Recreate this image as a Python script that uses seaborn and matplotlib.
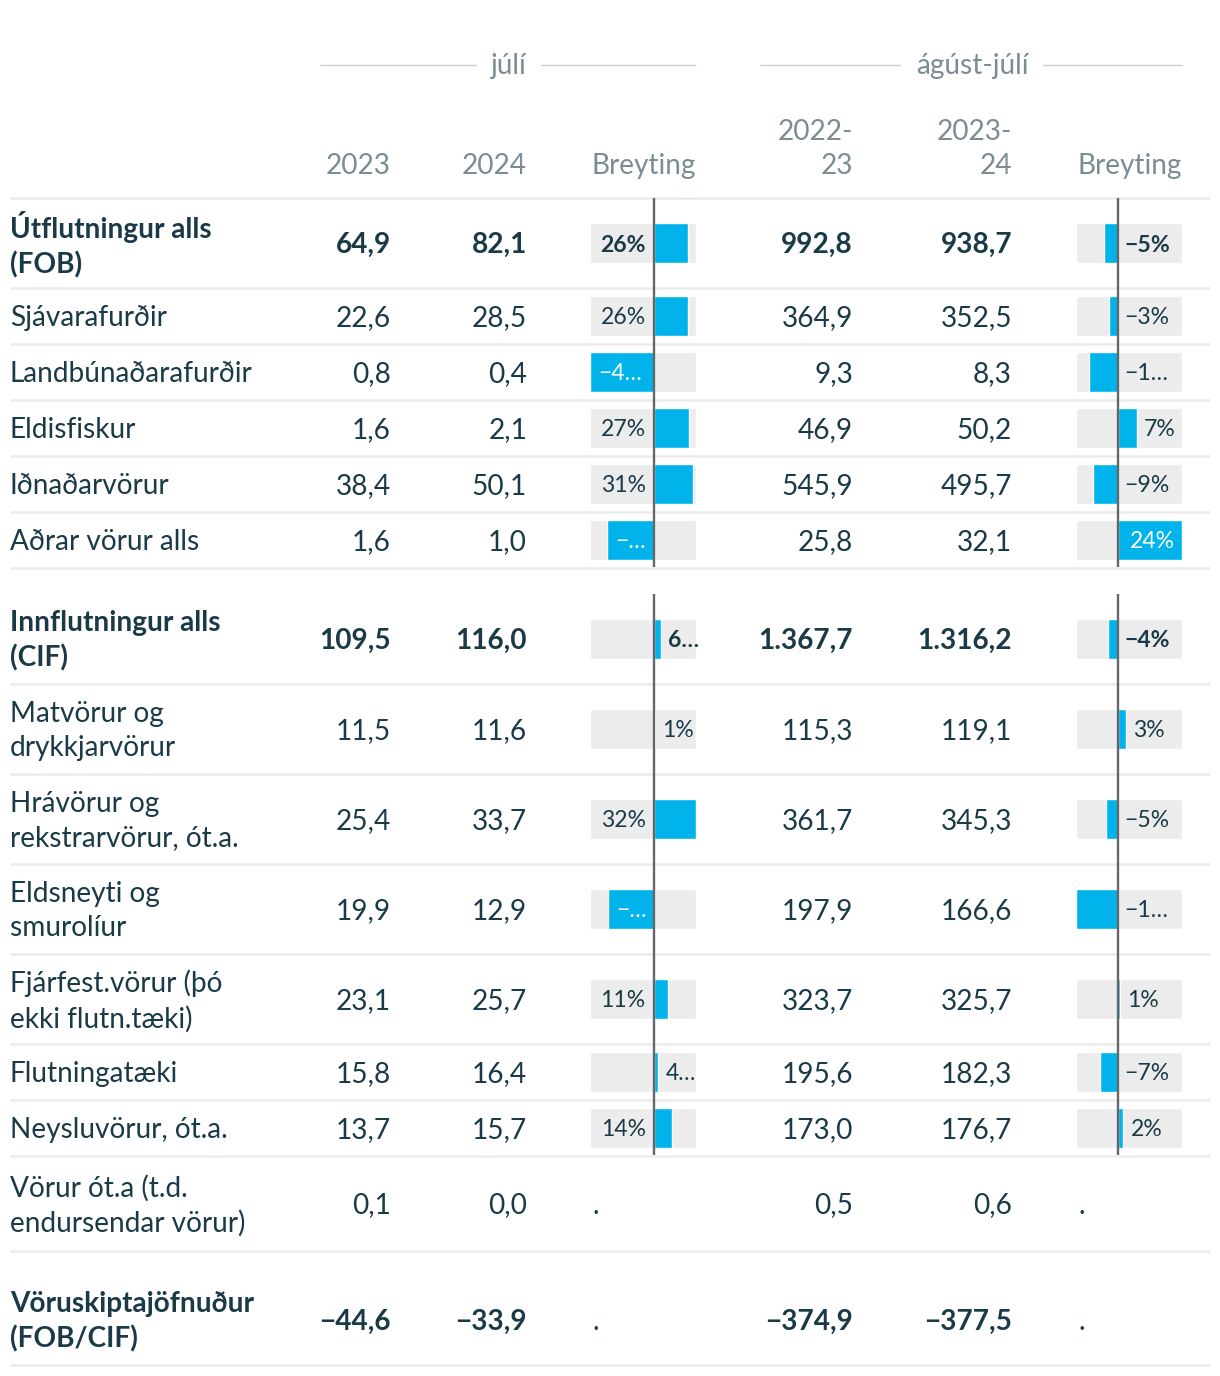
import numpy as np
import matplotlib
matplotlib.use("Agg")
import matplotlib.pyplot as plt
import matplotlib.transforms as mtransforms
import seaborn as sns

# ---------------- data ----------------
row_labels = [
    "Útflutningur alls\n(FOB)", "Sjávarafurðir", "Landbúnaðarafurðir", "Eldisfiskur",
    "Iðnaðarvörur", "Aðrar vörur alls",
    "Innflutningur alls\n(CIF)", "Matvörur og\ndrykkjarvörur", "Hrávörur og\nrekstrarvörur, ót.a.",
    "Eldsneyti og\nsmurolíur", "Fjárfest.vörur (þó\nekki flutn.tæki)", "Flutningatæki",
    "Neysluvörur, ót.a.", "Vörur ót.a (t.d.\nendursendar vörur)", "Vöruskiptajöfnuður\n(FOB/CIF)",
]
bold_rows = [True, False, False, False, False, False, True, False, False, False, False,
             False, False, False, True]
jul_2023 = [64.9, 22.6, 0.8, 1.6, 38.4, 1.6, 109.5, 11.5, 25.4, 19.9, 23.1, 15.8, 13.7, 0.1, -44.6]
jul_2024 = [82.1, 28.5, 0.4, 2.1, 50.1, 1.0, 116.0, 11.6, 33.7, 12.9, 25.7, 16.4, 15.7, 0.0, -33.9]
aj_2223 = [992.8, 364.9, 9.3, 46.9, 545.9, 25.8, 1367.7, 115.3, 361.7, 197.9, 323.7, 195.6, 173.0, 0.5, -374.9]
aj_2324 = [938.7, 352.5, 8.3, 50.2, 495.7, 32.1, 1316.2, 119.1, 345.3, 166.6, 325.7, 182.3, 176.7, 0.6, -377.5]
chg_jul = [26.4, 26.1, -49.0, 27.3, 30.6, -36.0, 5.5, 1.0, 32.6, -35.0, 11.0, 3.7, 14.3, np.nan, np.nan]
chg_aj = [-5.0, -3.2, -10.8, 7.2, -9.2, 24.4, -3.8, 3.1, -4.6, -15.8, 1.0, -6.8, 2.2, np.nan, np.nan]
chg_jul_labels = ["26%", "26%", "−4…", "27%", "31%", "−…", "6…", "1%", "32%", "−…", "11%", "4…", "14%", ".", "."]
chg_aj_labels = ["−5%", "−3%", "−1…", "7%", "−9%", "24%", "−4%", "3%", "−5%", "−1…", "1%", "−7%", "2%", ".", "."]
group_titles = ["júlí", "ágúst-júlí"]
col_headers = ["2023", "2024", "Breyting", "2022-\n23", "2023-\n24", "Breyting"]

# ---------------- layout (pixels) ----------------
W, H = 1220, 1376
row_heights = [90, 56, 56, 56, 56, 56, 90, 90, 90, 90, 90, 56, 56, 95, 90]
space_before = [0, 0, 0, 0, 0, 0, 26, 0, 0, 0, 0, 0, 0, 0, 24]
TABLE_TOP = 198
label_place_jul = ['Z', 'Z', 'I', 'Z', 'Z', 'I', 'A', 'A', 'Z', 'I', 'Z', 'A', 'Z', None, None]
label_place_aj = ['Z', 'Z', 'Z', 'A', 'Z', 'I', 'Z', 'A', 'Z', 'Z', 'A', 'Z', 'A', None, None]

TEXT = "#1a3a47"
GREY_TXT = "#7b8d93"
BLUE = "#00b4eb"
BG = "#ececec"
SEP = "#ebebeb"
ZERO = "#666666"
FS = 20.2
FS_BAR = 16.6
DY = 2

sns.set_theme(style="white")
plt.rcParams["font.family"] = ["Lato", "DejaVu Sans"]

fig = plt.figure(figsize=(W / 100, H / 100), dpi=100)
ax = fig.add_axes([0, 0, 1, 1])
ax.set_xlim(0, W)
ax.set_ylim(H, 0)
ax.axis("off")


def fmt(v):
    s = f"{abs(v):,.1f}".replace(",", "X").replace(".", ",").replace("X", ".")
    return ("−" + s) if v < 0 else s


# row geometry
tops, centers, bottoms = [], [], []
y = TABLE_TOP
for h, sp in zip(row_heights, space_before):
    y += sp
    tops.append(y)
    centers.append(y + h / 2)
    y += h
    bottoms.append(y)

# ---- header ----
for title, (x0, x1) in zip(group_titles, [(320, 696), (760, 1182)]):
    ax.hlines(65, x0, x1, color="#c9cfd1", lw=1.0)
    ax.text((x0 + x1) / 2 + 1, 66, title, ha="center", va="center", fontsize=FS, color=GREY_TXT,
            bbox=dict(facecolor="white", edgecolor="none", pad=10.5))
col_right = [391, 527, 696, 853, 1012, 1182]
for txt, xr in zip(col_headers, col_right):
    ax.text(xr, 174, txt, ha="right", va="baseline", fontsize=FS, color=GREY_TXT,
            linespacing=1.4)
ax.hlines(197.5, 10, 1210, color=SEP, lw=1.8)

# ---- rows ----
num_cols = [jul_2023, jul_2024, aj_2223, aj_2324]
num_right = [391, 527, 853, 1012]
for i, lab in enumerate(row_labels):
    weight = "bold" if bold_rows[i] else "normal"
    cy = centers[i] + DY
    ax.text(10, cy, lab, ha="left", va="center", fontsize=FS, color=TEXT,
            fontweight=weight, linespacing=1.38)
    for vals, xr in zip(num_cols, num_right):
        ax.text(xr, cy, fmt(vals[i]), ha="right", va="center", fontsize=FS, color=TEXT,
                fontweight=weight)
    ax.hlines(bottoms[i], 10, 1210, color=SEP, lw=1.8)

# ---- bar columns ----
sections = [(0, 6), (6, 13)]
for vals, labels, places, (px0, px1) in [
    (chg_jul, chg_jul_labels, label_place_jul, (590, 696)),
    (chg_aj, chg_aj_labels, label_place_aj, (1076, 1182)),
]:
    vals = np.asarray(vals, dtype=float)
    ytop, ybot = TABLE_TOP, bottoms[12]
    axb = fig.add_axes([px0 / W, 1 - ybot / H, (px1 - px0) / W, (ybot - ytop) / H])
    xmin = min(np.nanmin(vals), 0)
    xmax = max(np.nanmax(vals), 0)
    ok = ~np.isnan(vals)
    cy = np.asarray(centers)[ok]
    v = vals[ok]
    axb.barh(cy, xmax - xmin, left=xmin, height=40, color=BG, zorder=0.5)
    min_gap = np.min(np.diff(np.sort(cy)))
    sns.barplot(x=v, y=cy, orient="y", native_scale=True, width=40 / min_gap,
                color=BLUE, saturation=1, errorbar=None, ax=axb, zorder=1)
    axb.set_xlim(xmin, xmax)
    axb.set_ylim(ybot, ytop)
    axb.axis("off")
    axb.patch.set_alpha(0)
    for (a, b) in sections:
        axb.vlines(0, tops[a], bottoms[b - 1] - 1, color=ZERO, lw=1.7, zorder=3)
    # labels
    for i in range(len(vals)):
        if np.isnan(vals[i]):
            ax.text(px0 + 2, centers[i] + DY, labels[i], ha="left", va="center",
                    fontsize=FS, color=TEXT)
            continue
        val = vals[i]
        pl = places[i]
        weight = "bold" if bold_rows[i] else "normal"
        color = TEXT
        if pl == "Z":
            xd, dx, ha = 0, (-8 if val > 0 else 7), ("right" if val > 0 else "left")
        elif pl == "A":
            xd, dx, ha = val, (7 if val > 0 else -7), ("left" if val > 0 else "right")
        else:
            xd, dx, ha = val, (-7 if val > 0 else 8), ("right" if val > 0 else "left")
            color = "white"
        tr = mtransforms.offset_copy(axb.transData, fig=fig, x=dx, y=0, units="dots")
        axb.text(xd, centers[i] + DY, labels[i], transform=tr, ha=ha, va="center",
                 fontsize=FS_BAR, color=color, fontweight=weight, zorder=4)

fig.savefig("out.png", dpi=100)
